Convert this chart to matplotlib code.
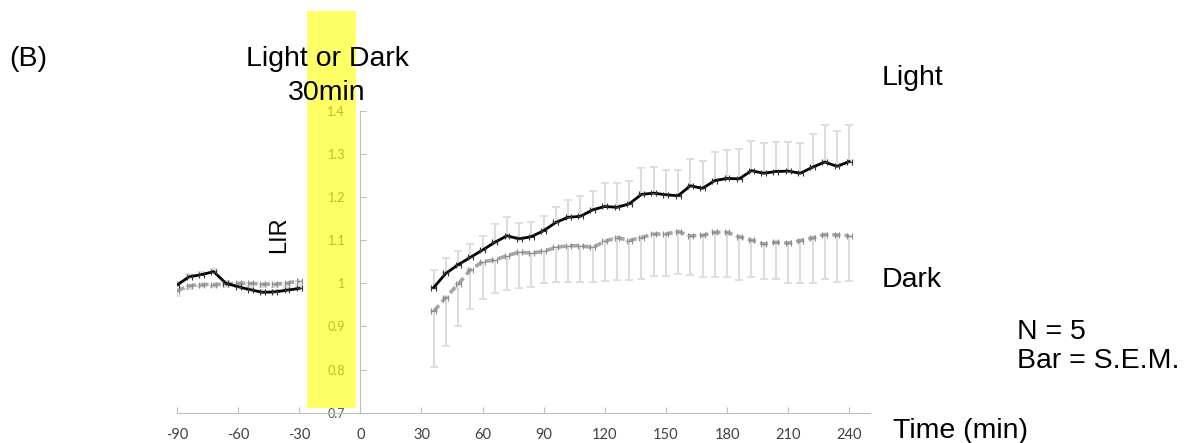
import matplotlib
matplotlib.use("Agg")
import matplotlib.pyplot as plt
from matplotlib.patches import Rectangle

plt.rcParams["axes.unicode_minus"] = False

# Time points (min)
time_pre = [-90, -84, -78, -72, -66, -60, -54, -48, -42, -36, -30]
time_post = [36, 42, 48, 54, 60, 66, 72, 78, 84, 90, 96, 102, 108, 114, 120, 126,
             132, 138, 144, 150, 156, 162, 168, 174, 180, 186, 192, 198, 204, 210,
             216, 222, 228, 234, 240]

# LIR, light condition
light_pre = [0.996, 1.015, 1.020, 1.027, 1.000, 0.992, 0.985, 0.979, 0.980, 0.984, 0.988]
light_pre_sem = [0.008, 0.007, 0.007, 0.007, 0.006, 0.006, 0.005, 0.005, 0.005, 0.006, 0.006]
light_post = [0.990, 1.023, 1.043, 1.060, 1.077, 1.095, 1.110, 1.103, 1.108, 1.122,
              1.141, 1.153, 1.155, 1.170, 1.178, 1.176, 1.184, 1.206, 1.209, 1.205,
              1.203, 1.226, 1.220, 1.238, 1.243, 1.242, 1.261, 1.255, 1.259, 1.260,
              1.255, 1.269, 1.281, 1.271, 1.282]
light_post_sem = [0.041, 0.035, 0.032, 0.032, 0.033, 0.043, 0.044, 0.036, 0.033, 0.033,
                  0.035, 0.039, 0.048, 0.045, 0.054, 0.057, 0.053, 0.061, 0.060, 0.058,
                  0.060, 0.063, 0.064, 0.067, 0.066, 0.069, 0.068, 0.070, 0.069, 0.067,
                  0.070, 0.076, 0.085, 0.083, 0.084]

# LIR, dark condition
dark_pre = [0.983, 0.994, 0.997, 0.997, 0.998, 1.000, 1.000, 0.998, 0.998, 1.000, 1.006]
dark_pre_sem = [0.012, 0.008, 0.006, 0.005, 0.006, 0.006, 0.007, 0.006, 0.006, 0.007, 0.008]
dark_post = [0.935, 0.967, 0.998, 1.031, 1.050, 1.054, 1.064, 1.072, 1.070, 1.074,
             1.083, 1.087, 1.087, 1.083, 1.097, 1.106, 1.099, 1.106, 1.114, 1.114,
             1.120, 1.110, 1.111, 1.118, 1.118, 1.108, 1.100, 1.091, 1.095, 1.093,
             1.099, 1.105, 1.113, 1.112, 1.110]
dark_post_sem = [0.129, 0.112, 0.096, 0.091, 0.086, 0.077, 0.079, 0.082, 0.078, 0.074,
                 0.079, 0.085, 0.085, 0.081, 0.091, 0.098, 0.091, 0.096, 0.096, 0.097,
                 0.098, 0.090, 0.096, 0.103, 0.103, 0.100, 0.085, 0.081, 0.085, 0.093,
                 0.099, 0.105, 0.103, 0.110, 0.104]

xticks = [-90, -60, -30, 0, 30, 60, 90, 120, 150, 180, 210, 240]
yticks = [0.7, 0.8, 0.9, 1.0, 1.1, 1.2, 1.3, 1.4]
ytick_labels = ["0.7", "0.8", "0.9", "1", "1.1", "1.2", "1.3", "1.4"]

# stimulus window
stim_start = -26
stim_end = -2

W, H = 1189, 443
fig = plt.figure(figsize=(W / 100, H / 100), dpi=100)
ax = fig.add_axes([177 / W, 30.3 / H, 692.6 / W, 302 / H])
ax.set_xlim(-90, 250)
ax.set_ylim(0.7, 1.4)

err_col = "#DCDCDC"
dark_col = "#A6A6A6"

for t, y, s in [(time_pre, light_pre, light_pre_sem), (time_post, light_post, light_post_sem)]:
    # upper bars only
    ax.errorbar(t, y, yerr=[[0] * len(s), s], fmt="none", ecolor=err_col,
                elinewidth=1.5, capsize=3, capthick=1.3, zorder=1)
for t, y, s in [(time_pre, dark_pre, dark_pre_sem), (time_post, dark_post, dark_post_sem)]:
    # lower bars only
    ax.errorbar(t, y, yerr=[s, [0] * len(s)], fmt="none", ecolor=err_col,
                elinewidth=1.5, capsize=3, capthick=1.3, zorder=1)

for t, y in [(time_pre, dark_pre), (time_post, dark_post)]:
    ax.plot(t, y, color=dark_col, lw=2.6, dashes=(2.2, 1.2), zorder=2)
    ax.errorbar(t, y, xerr=1.2, fmt="none", ecolor="#8C8C8C", elinewidth=0.8,
                capsize=2, capthick=0.8, zorder=2)
for t, y in [(time_pre, light_pre), (time_post, light_post)]:
    ax.plot(t, y, color="black", lw=2, zorder=3)
    ax.errorbar(t, y, xerr=1.2, fmt="none", ecolor="#333333", elinewidth=0.8,
                capsize=2, capthick=0.8, zorder=3)

# axes styling
for side in ["top", "right"]:
    ax.spines[side].set_visible(False)
ax.spines["left"].set_position(("data", 0))
ax.spines["left"].set_color("#BFBFBF")
ax.spines["bottom"].set_color("#BFBFBF")
ax.set_xticks(xticks)
ax.set_yticks(yticks)
ax.set_yticklabels(ytick_labels)
ax.tick_params(axis="both", direction="in", color="#BFBFBF", length=4)
ax.tick_params(axis="x", labelsize=10.5, labelcolor="#404040", pad=11)
ax.tick_params(axis="y", labelsize=9, labelcolor="#595959", pad=11)
for lab in ax.get_xticklabels() + ax.get_yticklabels():
    lab.set_fontfamily("Lato")

# light/dark stimulus band
ax.add_patch(Rectangle((stim_start, 0.711), stim_end - stim_start, 0.92,
                       facecolor="yellow", edgecolor="none", alpha=0.6,
                       clip_on=False, zorder=4))

def ftext(x, y, s, **kw):
    kw.setdefault("fontsize", 20.5)
    fig.text(x / W, 1 - y / H, s, family="Liberation Sans", va="baseline",
             zorder=10, **kw)

ftext(9, 66, "(B)")
ftext(327, 66, "Light or Dark", ha="center")
ftext(327, 100, "30min", ha="center")
ftext(882, 85, "Light")
ftext(882, 287, "Dark")
ftext(1017, 339, "N = 5")
ftext(1017, 368, "Bar = S.E.M.")
ftext(893, 438, "Time (min)")
fig.text(279 / W, 1 - 235 / H, "LIR", family="Liberation Sans", fontsize=17,
         rotation=90, ha="center", va="center", zorder=10)

fig.savefig("out.png", dpi=100)
